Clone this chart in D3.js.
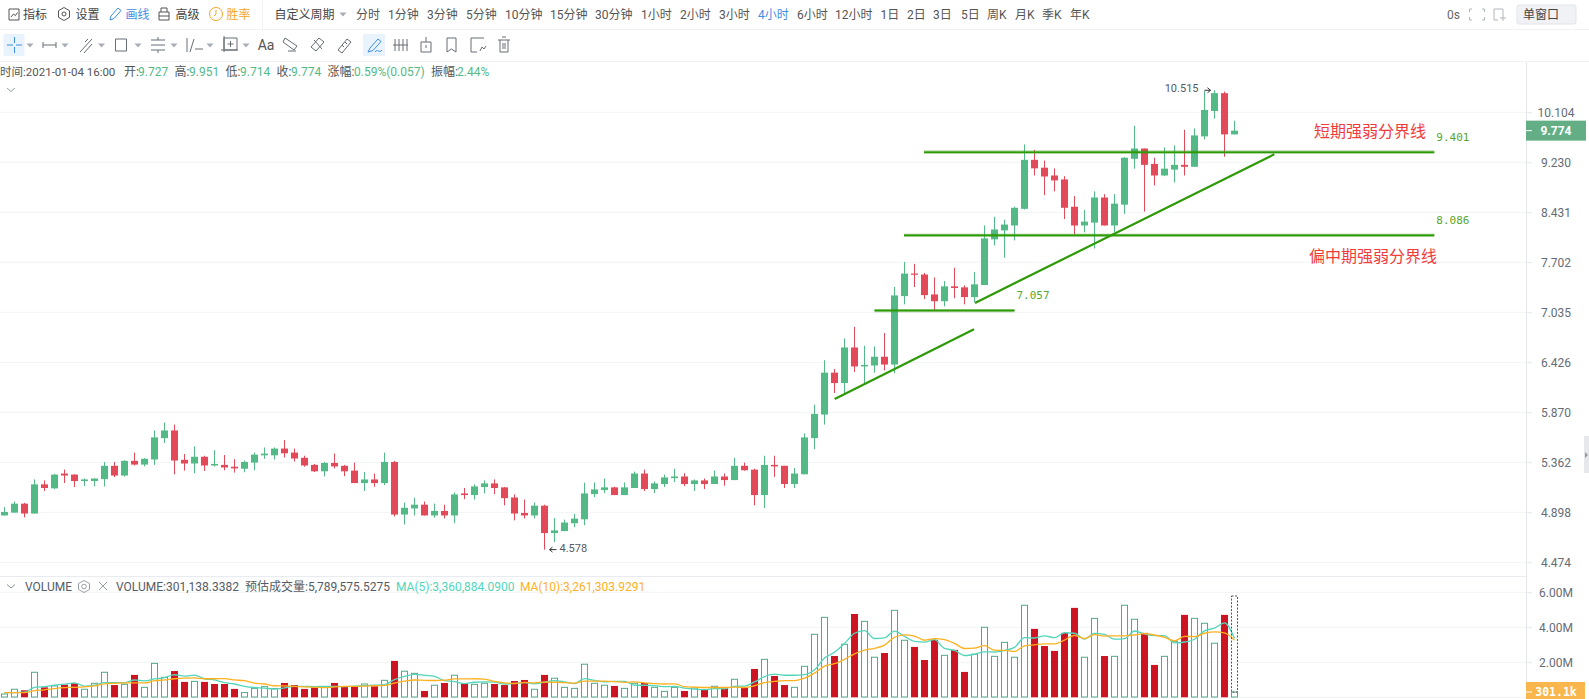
<!DOCTYPE html>
<html><head><meta charset="utf-8">
<script src="https://cdn.jsdelivr.net/npm/d3@7/dist/d3.min.js"></script>
<style>
html,body{margin:0;padding:0;background:#fff;overflow:hidden}
svg{display:block}
text{font-family:Roboto,"Noto Sans CJK SC",sans-serif;font-size:12px}
.mono{font-family:"DejaVu Sans Mono",monospace}
</style></head><body>
<svg id="c" width="1589" height="699"></svg>
<script>
const opens=[4.870,4.895,4.975,4.887,5.152,5.115,5.254,5.244,5.183,5.183,5.201,5.328,5.235,5.376,5.340,5.389,5.602,5.680,5.386,5.350,5.416,5.331,5.337,5.319,5.300,5.359,5.430,5.430,5.497,5.457,5.406,5.337,5.275,5.356,5.328,5.282,5.164,5.198,5.164,5.365,4.878,4.932,4.966,4.870,4.910,4.870,5.068,5.053,5.127,5.161,5.124,5.031,4.892,4.870,4.957,4.717,4.734,4.802,4.836,5.062,5.099,5.124,5.053,5.118,5.254,5.108,5.155,5.210,5.226,5.155,5.189,5.155,5.226,5.192,5.328,5.291,5.053,5.337,5.328,5.155,5.247,5.602,5.846,6.307,6.189,6.601,6.378,6.389,6.491,6.400,7.244,7.546,7.533,7.266,7.177,7.373,7.360,7.231,7.391,8.028,8.159,8.232,8.484,9.271,9.140,9.012,8.948,8.516,8.232,8.275,8.660,8.232,8.548,9.288,9.463,9.203,9.012,9.108,9.187,9.155,9.673,10.128,10.460,9.708];
const highs=[4.944,4.994,4.982,5.198,5.189,5.251,5.291,5.247,5.207,5.207,5.365,5.365,5.382,5.457,5.403,5.680,5.762,5.741,5.443,5.518,5.426,5.481,5.433,5.392,5.379,5.457,5.508,5.508,5.582,5.497,5.426,5.346,5.365,5.447,5.337,5.359,5.269,5.254,5.457,5.376,4.985,5.028,4.994,4.975,4.966,5.077,5.118,5.152,5.189,5.198,5.127,5.059,5.012,4.985,4.966,4.847,4.833,4.884,5.167,5.170,5.207,5.130,5.170,5.272,5.291,5.179,5.244,5.300,5.257,5.198,5.207,5.282,5.254,5.406,5.359,5.300,5.426,5.426,5.328,5.306,5.650,5.951,6.450,6.348,6.710,6.852,6.621,6.613,6.775,7.364,7.707,7.680,7.555,7.493,7.444,7.626,7.386,7.569,8.232,8.363,8.319,8.516,9.533,9.440,9.259,9.129,9.001,8.681,8.468,8.756,8.713,8.713,9.317,9.859,9.463,9.306,9.481,9.516,9.789,9.813,10.502,10.515,10.490,9.951];
const lows=[4.870,4.895,4.853,4.887,5.090,5.108,5.164,5.127,5.136,5.133,5.133,5.220,5.226,5.331,5.322,5.337,5.552,5.247,5.282,5.257,5.278,5.322,5.285,5.263,5.266,5.285,5.396,5.389,5.409,5.369,5.319,5.269,5.226,5.303,5.229,5.164,5.090,5.130,5.145,4.861,4.791,4.870,4.870,4.850,4.844,4.802,5.016,5.012,5.068,5.062,4.960,4.827,4.844,4.844,4.578,4.641,4.734,4.768,4.785,5.034,5.071,5.053,5.053,5.118,5.090,5.071,5.127,5.173,5.136,5.090,5.108,5.155,5.139,5.192,5.282,4.960,4.935,5.223,5.118,5.118,5.247,5.491,5.741,6.078,6.078,6.315,6.185,6.307,6.333,6.300,7.137,7.364,7.204,7.066,7.111,7.217,7.137,7.164,7.391,7.940,7.765,8.013,8.474,9.012,8.697,8.756,8.329,8.101,8.130,7.896,8.232,8.130,8.407,9.124,8.442,8.852,9.001,8.900,9.012,9.155,9.620,9.988,9.323,9.708];
const closes=[4.901,4.975,4.887,5.152,5.118,5.244,5.235,5.183,5.198,5.207,5.328,5.235,5.376,5.340,5.396,5.609,5.680,5.379,5.350,5.416,5.331,5.346,5.312,5.303,5.365,5.437,5.447,5.497,5.450,5.399,5.331,5.275,5.356,5.322,5.275,5.164,5.198,5.164,5.365,4.878,4.938,4.966,4.870,4.910,4.870,5.059,5.053,5.133,5.161,5.118,5.025,4.887,4.870,4.957,4.717,4.740,4.808,4.842,5.068,5.105,5.124,5.053,5.124,5.254,5.108,5.161,5.217,5.226,5.155,5.189,5.155,5.226,5.192,5.328,5.285,5.053,5.337,5.322,5.155,5.254,5.609,5.853,6.307,6.189,6.601,6.378,6.396,6.491,6.400,7.253,7.546,7.529,7.257,7.177,7.373,7.351,7.231,7.400,8.042,8.173,8.246,8.500,9.271,9.129,8.996,8.932,8.500,8.232,8.290,8.660,8.232,8.564,9.306,9.463,9.187,9.012,9.124,9.187,9.155,9.690,10.147,10.460,9.708,9.774];
const volumes=[.19,.46,.40,1.43,.57,.65,.72,.80,.46,.80,1.43,.70,.74,1.28,.57,1.94,1.14,1.50,.88,.91,.88,.76,.76,.48,.27,.51,.61,.50,.82,.70,.48,.57,.57,.82,.61,.61,.76,.63,.97,2.08,1.49,1.37,.36,.69,.82,1.26,.78,.74,.80,.76,.70,.93,.99,.46,1.28,1.09,.57,.51,1.89,.80,.69,.65,.51,.80,.82,.57,.34,.57,.36,.53,.42,.63,.53,1.03,.57,1.62,2.17,1.22,.70,.57,1.77,3.60,4.57,2.36,3.03,4.76,4.34,2.29,2.53,4.97,3.26,2.88,2.13,3.28,2.40,2.71,1.45,2.46,4.00,2.34,3.14,2.29,5.26,3.91,2.93,2.65,3.68,5.11,2.29,4.51,2.36,2.34,5.26,4.46,3.68,1.85,2.34,3.20,4.71,4.51,4.23,3.09,4.71,.301];
const volumeFalling=[2,4,6,7,11,13,17,18,20,21,22,23,28,29,30,31,33,34,35,37,39,42,44,46,49,50,51,52,54,61,64,68,70,72,74,75,77,78,83,85,88,91,92,93,95,96,103,104,105,106,107,110,114,115,118,122];
const ma5=[.27,.27,.29,.57,.61,.70,.75,.83,.64,.69,.84,.84,.83,.99,.94,1.05,1.13,1.29,1.21,1.27,1.06,.99,.84,.76,.63,.56,.53,.47,.54,.63,.62,.61,.63,.63,.61,.64,.67,.69,.72,1.01,1.19,1.31,1.25,1.20,.95,.90,.78,.86,.88,.87,.76,.79,.84,.77,.87,.95,.88,.78,1.07,.97,.89,.91,.91,.69,.69,.67,.61,.62,.53,.47,.44,.50,.49,.63,.64,.88,1.18,1.32,1.26,1.26,1.29,1.57,2.24,2.57,3.07,3.66,3.81,3.36,3.39,3.78,3.48,3.19,3.15,3.30,2.79,2.68,2.39,2.46,2.60,2.59,2.68,2.85,3.41,3.39,3.51,3.41,3.69,3.66,3.33,3.65,3.59,3.32,3.35,3.79,3.62,3.52,3.52,3.11,3.16,3.32,3.80,3.95,4.25,3.36];
const ma10=[.27,.27,.27,.38,.43,.50,.55,.57,.60,.65,.77,.80,.83,.82,.82,.95,.99,1.06,1.10,1.11,1.06,1.06,1.07,.99,.95,.81,.76,.66,.65,.63,.59,.57,.55,.59,.62,.63,.64,.66,.68,.81,.92,.99,.97,.96,.98,1.05,1.05,1.06,1.04,.91,.83,.79,.85,.83,.87,.86,.84,.81,.92,.92,.92,.90,.85,.88,.83,.78,.76,.77,.61,.58,.56,.56,.56,.58,.56,.66,.84,.91,.95,.95,1.09,1.38,1.78,1.92,2.17,2.48,2.69,2.80,2.98,3.43,3.57,3.50,3.26,3.35,3.29,3.08,2.79,2.81,2.95,2.69,2.68,2.62,2.94,3.00,3.05,3.05,3.27,3.54,3.36,3.58,3.50,3.51,3.51,3.56,3.64,3.56,3.42,3.23,3.48,3.47,3.66,3.74,3.68,3.26];
const estimatedVolume=5.7896;
const priceTicks=[10.104,9.230,8.431,7.702,7.035,6.426,5.870,5.362,4.898,4.474];
const volumeTicks=[2,4,6];
const levels=[{price:9.401,from:91.95,to:142.98},{price:8.086,from:89.95,to:142.98},{price:7.057,from:87,to:101}];
const trends=[{i0:83.02,p0:6.013,i1:96.95,p1:6.821},{i0:97.05,p0:7.155,i1:126.98,p1:9.365}];
const periods=[["分时",356],["1分钟",388],["3分钟",427],["5分钟",466],["10分钟",505],["15分钟",550],["30分钟",595],["1小时",641],["2小时",680],["3小时",719],["4小时",758],["6小时",797],["12小时",835],["1日",880.5],["2日",907],["3日",933],["5日",961],["周K",987],["月K",1015],["季K",1042],["年K",1070]];
const infoRow=[["开:",124,"#555"],["9.727",138,"#53b987"],["高:",174.5,"#555"],["9.951",189,"#53b987"],["低:",225.5,"#555"],["9.714",240,"#53b987"],["收:",276.5,"#555"],["9.774",291,"#53b987"],["涨幅:",327.5,"#555"],["0.59%(0.057)",354,"#53b987"],["振幅:",431,"#555"],["2.44%",457,"#53b987"]];

const UP="#53b987",DOWN="#e24a5a",VUP="#53a987",VDOWN="#cc1422",LINE="#2f9a08",GRID="#f0f3f5",AXIS="#e3e7ec",TXT="#555b66";
const svg=d3.select("#c");
const x=d3.scaleLinear().domain([0,123]).range([4.5,1234.5]);
const y=d3.scaleLog().domain([4.474,10.104]).range([562.3,112.3]);
const v=d3.scaleLinear().domain([0,6]).range([697.3,592.3]);

/* grid + axes */
const grid=svg.append("g");
grid.selectAll("line.p").data(priceTicks).join("line").attr("x1",0).attr("x2",1526).attr("y1",d=>y(d)).attr("y2",d=>y(d)).attr("stroke",GRID);
grid.selectAll("line.v").data([0,...volumeTicks]).join("line").attr("class","v").attr("x1",0).attr("x2",1526).attr("y1",d=>v(d)).attr("y2",d=>v(d)).attr("stroke",GRID);
function styleAxis(g){g.select(".domain").remove();g.selectAll(".tick line").attr("stroke",AXIS);
 g.selectAll(".tick text").attr("x",30).attr("text-anchor","middle").attr("fill","#666c75").style("font-size","12px").style("font-family","Roboto");}
svg.append("g").attr("transform","translate(1526,0)").call(d3.axisRight(y).tickValues(priceTicks).tickFormat(d3.format(".3f")).tickSize(6)).call(styleAxis);
svg.append("g").attr("transform","translate(1526,0)").call(d3.axisRight(v).tickValues(volumeTicks).tickFormat(d=>d3.format(".2f")(d)+"M").tickSize(6)).call(styleAxis);
svg.append("line").attr("x1",1526.5).attr("x2",1526.5).attr("y1",61).attr("y2",699).attr("stroke",AXIS);
svg.append("line").attr("x1",0).attr("x2",1526).attr("y1",576.5).attr("y2",576.5).attr("stroke","#e8ebef");

/* candles */
const idx=d3.range(opens.length);
const cg=svg.append("g");
cg.selectAll("rect.w").data(idx).join("rect").attr("x",i=>x(i)-.5).attr("width",1).attr("y",i=>y(highs[i])).attr("height",i=>y(lows[i])-y(highs[i])).attr("fill",i=>closes[i]>=opens[i]?UP:DOWN);
cg.selectAll("rect.b").data(idx).join("rect").attr("class","b").attr("x",i=>x(i)-3.5).attr("width",7).attr("y",i=>y(Math.max(opens[i],closes[i]))).attr("height",i=>Math.max(1,Math.abs(y(opens[i])-y(closes[i])))).attr("fill",i=>closes[i]>=opens[i]?UP:DOWN);

/* extremes */
function arrow(x1,x2,yy){const d=x2>x1?-1:1;svg.append("path").attr("d",`M${x1},${yy}H${x2}M${x2+d*3},${yy-2.5}L${x2},${yy}L${x2+d*3},${yy+2.5}`).attr("fill","none").attr("stroke","#333");}
const hiI=highs.indexOf(d3.max(highs)),loI=lows.indexOf(d3.min(lows));
svg.append("text").attr("x",x(hiI)-16).attr("y",y(highs[hiI])-1.5).attr("text-anchor","end").attr("dominant-baseline","central").attr("fill",TXT).style("font-size","11px").text(d3.max(highs).toFixed(3));
arrow(x(hiI)-10,x(hiI)-4,y(highs[hiI]));
svg.append("text").attr("x",x(loI)+15).attr("y",y(lows[loI])-1).attr("dominant-baseline","central").attr("fill",TXT).style("font-size","11px").text(d3.min(lows).toFixed(3));
arrow(x(loI)+12,x(loI)+5,y(lows[loI]));

/* drawings */
const dg=svg.append("g");
levels.forEach(l=>{
 dg.append("line").attr("x1",x(l.from)).attr("x2",x(l.to)).attr("y1",y(l.price)).attr("y2",y(l.price)).attr("stroke",LINE).attr("stroke-opacity",.5).attr("stroke-width",3.2);
 dg.append("line").attr("x1",x(l.from)).attr("x2",x(l.to)).attr("y1",y(l.price)).attr("y2",y(l.price)).attr("stroke",LINE).attr("stroke-width",1.5);
});
trends.forEach(t=>dg.append("line").attr("x1",x(t.i0)).attr("y1",y(t.p0)).attr("x2",x(t.i1)).attr("y2",y(t.p1)).attr("stroke",LINE).attr("stroke-width",2.2));
dg.selectAll("text.l").data(levels).join("text").attr("class","mono").attr("x",l=>x(l.to)+2).attr("y",l=>y(l.price)-15).attr("dominant-baseline","central").attr("fill","#57a62e").style("font-size","11px").style("font-family","DejaVu Sans Mono").text(l=>l.price.toFixed(3));
[["短期强弱分界线",1314,131.7],["偏中期强弱分界线",1309,256.7]].forEach(a=>dg.append("text").attr("x",a[1]).attr("y",a[2]).attr("dominant-baseline","central").attr("fill","#f23c3c").style("font-size","16px").text(a[0]));

/* last price tag */
svg.append("rect").attr("x",1526).attr("y",y(closes[123])-10).attr("width",60).attr("height",20).attr("fill","#63ae85");
svg.append("line").attr("x1",1526).attr("x2",1532).attr("y1",y(closes[123])).attr("y2",y(closes[123])).attr("stroke","#fff");
svg.append("text").attr("x",1556).attr("y",y(closes[123])).attr("text-anchor","middle").attr("dominant-baseline","central").attr("fill","#fff").style("font-weight","700").style("font-size","12px").text(closes[123].toFixed(3));

/* volume */
const vg=svg.append("g");
vg.selectAll("rect").data(idx).join("rect").each(function(i){
 const s=d3.select(this),f=volumeFalling.includes(i);
 if(f)s.attr("x",x(i)-3.5).attr("width",7).attr("y",v(volumes[i])).attr("height",v(0)-v(volumes[i])).attr("fill",VDOWN);
 else s.attr("x",x(i)-3).attr("width",6).attr("y",v(volumes[i])).attr("height",v(0)-v(volumes[i])-.3).attr("fill","#fff").attr("stroke",VUP);
});
const lineGen=d=>d3.line().x((_,i)=>x(i)).y(m=>v(m)).curve(d3.curveMonotoneX)(d);
svg.append("path").attr("d",lineGen(ma5)).attr("fill","none").attr("stroke","#52d6bb").attr("stroke-width",1.3);
svg.append("path").attr("d",lineGen(ma10)).attr("fill","none").attr("stroke","#ffb01f").attr("stroke-width",1.3);
svg.append("rect").attr("x",x(123)-3).attr("width",6).attr("y",v(estimatedVolume)).attr("height",v(volumes[123])-v(estimatedVolume)).attr("fill","none").attr("stroke","#555").attr("stroke-dasharray","2 1.5");
svg.append("rect").attr("x",1526).attr("y",682).attr("width",59).attr("height",17).attr("fill","#f9b64d");
svg.append("line").attr("x1",1526).attr("x2",1532).attr("y1",v(volumes[123])).attr("y2",v(volumes[123])).attr("stroke","#fff");
svg.append("text").attr("x",1556).attr("y",692).attr("text-anchor","middle").attr("dominant-baseline","central").attr("fill","#fff").style("font-weight","700").style("font-family","DejaVu Sans Mono").style("font-size","11.5px").text("301.1k");

/* volume header */
function T(s,xx,yy,c,extra){const t=svg.append("text").attr("x",xx).attr("y",yy).attr("dominant-baseline","central").attr("fill",c||TXT).text(s);if(extra)t.attr("text-anchor",extra);return t;}
T("VOLUME",25,586.5);T("VOLUME:301,138.3382",116,586.5);T("预估成交量:5,789,575.5275",245,586.5);
T("MA(5):3,360,884.0900",396,586.5,"#52d6bb");T("MA(10):3,261,303.9291",520,586.5,"#ffb01f");
const S=(d,c,w)=>svg.append("path").attr("d",d).attr("fill","none").attr("stroke",c||"#666c75").attr("stroke-width",w||1);
S("M7,584.5l4,3.5l4,-3.5","#8a9099");S("M99,582l8,8M107,582l-8,8","#9aa0a8");
S("M84,580.5l5.5,3v6l-5.5,3l-5.5,-3v-6z","#9aa0a8");svg.append("circle").attr("cx",84).attr("cy",586.5).attr("r",2.3).attr("fill","none").attr("stroke","#9aa0a8");
S("M7,88l4,3.5l4,-3.5","#9aa0a8");

/* header rows */
svg.append("line").attr("x1",0).attr("x2",1589).attr("y1",29.5).attr("y2",29.5).attr("stroke","#f0f2f4");
svg.append("line").attr("x1",0).attr("x2",1589).attr("y1",61.5).attr("y2",61.5).attr("stroke","#f0f2f4");
svg.append("line").attr("x1",262.5).attr("x2",262.5).attr("y1",0).attr("y2",29).attr("stroke","#f0f2f4");
const Y1=14.5,BLUE="#3f8ee6",ORANGE="#f5a623";
[["指标",23,"#444"],["设置",75.5,"#444"],["画线",125.5,BLUE],["高级",175.5,"#444"],["胜率",226.5,ORANGE],["自定义周期",274.5,"#444"]].forEach(a=>T(a[0],a[1],Y1,a[2]));
periods.forEach(p=>T(p[0],p[1],Y1,p[0]==="4小时"?BLUE:"#555"));
T("0s",1447,Y1,"#666");
S("M9,9h10v11h-10zM11,17l2.5,-3l2,1.5l2,-3","#555");
S("M64,7.5l5.5,3.2v6.6l-5.5,3.2l-5.5,-3.2v-6.6z","#555");svg.append("circle").attr("cx",64).attr("cy",14).attr("r",2).attr("fill","none").attr("stroke","#555");
S("M110,20l1,-4l7,-8l3,2.5l-7,8z",BLUE);S("M159,12h10v8h-10zM161,12v-4h6v4M159,16h10","#555");
svg.append("circle").attr("cx",216).attr("cy",14).attr("r",6.5).attr("fill","none").attr("stroke",ORANGE);S("M216,10v4l-2,2",ORANGE);
const tri=(xx,yy)=>svg.append("path").attr("d",`M${xx-3.5},${yy-2}h7l-3.5,4z`).attr("fill","#a8adb5");
tri(343,14.5);tri(1565,14.5);
S("M1472,9h-2.5v3M1482,9h2.5v3M1472,20h-2.5v-3M1482,20h2.5v-3","#b0b5bb");S("M1494,9h9v6M1494,9v11h4M1500,18h6M1503,15v6","#b0b5bb");
svg.append("rect").attr("x",1517).attr("y",5).attr("width",59).attr("height",19).attr("rx",2).attr("fill","#f0f2f5").attr("stroke","#e2e5e9");
T("单窗口",1523,Y1,"#444");

/* toolbar row 2 */
const Y2=45;
svg.append("rect").attr("x",3.5).attr("y",34).attr("width",21).attr("height",22).attr("fill","#e8f3fd");
svg.append("rect").attr("x",363).attr("y",34).attr("width",22).attr("height",22).attr("fill","#e8f3fd");
S(`M7,${Y2}h6M16,${Y2}h6M14.5,${Y2-8}v6M14.5,${Y2+2}v6`,BLUE);
[30,65,101.5,138,174,210,246].forEach(a=>tri(a,Y2+.5));
S(`M43,${Y2}h13M43,${Y2-3}v6M56,${Y2-3}v6`);S(`M80,${Y2+7}l12,-13M84,${Y2+8}l8,-9M88,${Y2-6}l-3,3`);
S(`M115.5,${Y2-6}h11v12h-11z`);S(`M151,${Y2-5}h14M151,${Y2+5}h14M151,${Y2}h14M158,${Y2-8}v3M158,${Y2+5}v3`);
S(`M187,${Y2-7}v14M190,${Y2+7}l4,-13M195,${Y2+4}h8`);
S(`M224,${Y2-7}h13v12h-13zM224,${Y2-9}v16M221,${Y2+5}h17M230.5,${Y2-4}v6M227.5,${Y2-1}h6`);
T("Aa",266,Y2,"#555","middle").style("font-size","14px");
S(`M285,${Y2-7}l12,8l-3,4l-11,-8zM288,${Y2+6}h8`);S(`M311,${Y2+2}l8,-9l5,4l-8,9zM314,${Y2-5}l8,9`);S(`M338,${Y2+5}l9,-11l4,3l-9,11zM342,${Y2}l2,2M345,${Y2-3}l2,2`);
S(`M368,${Y2+7}l2,-4l8,-9l3,2.5l-8,9zM375,${Y2+7}c3,-4 4,2 7,-2`,BLUE);
S(`M393,${Y2}h15M395,${Y2-6}v12M399,${Y2-6}v12M403,${Y2-6}v12M407,${Y2-6}v12`);
S(`M421,${Y2-3}h10v10h-10zM426,${Y2-8}v5M426,${Y2}v3`);S(`M447,${Y2-7}h9v14l-4.5,-3l-4.5,3z`);
S(`M471,${Y2-7}h13M471,${Y2-7}v14h6M480,${Y2+6}l2,-4l2,2l2,-3`);S(`M498,${Y2-5}h12M500,${Y2-5}v12h8v-12M502,${Y2-8}h4M503,${Y2-2}v6M505,${Y2-2}v6`);

/* info row */
T("时间:2021-01-04 16:00",0,72,"#555").style("font-size","11.5px");
infoRow.forEach(a=>T(a[0],a[1],72,a[2]));
/* side handle */
svg.append("rect").attr("x",1584).attr("y",436).attr("width",5).attr("height",37).attr("fill","#e6e8eb");
svg.append("path").attr("d","M1585,452l3,3l-3,3z").attr("fill","#999");
</script></body></html>
